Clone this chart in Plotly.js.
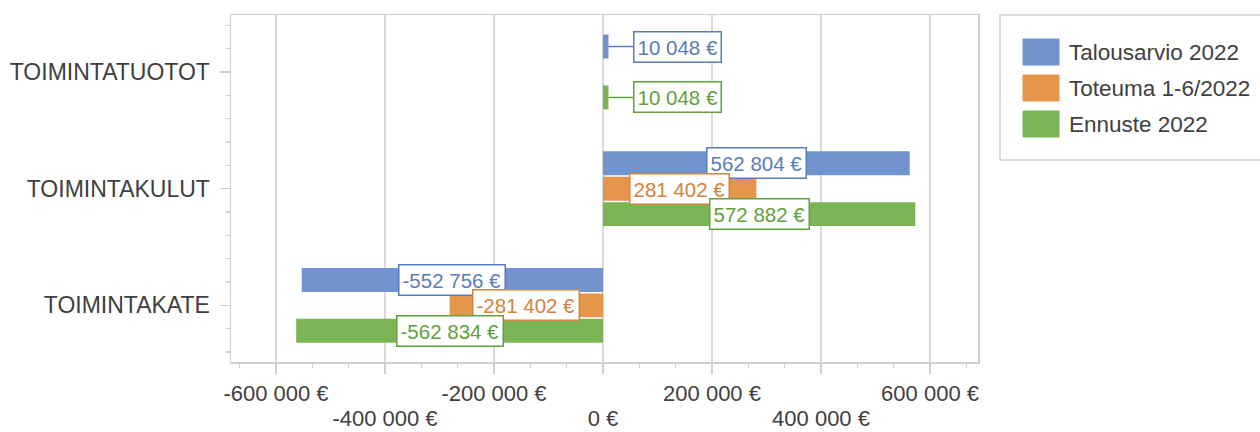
<!DOCTYPE html>
<html><head><meta charset="utf-8">
<script src="https://cdn.plot.ly/plotly-3.0.1.min.js"></script>
<style>html,body{margin:0;padding:0;background:#fff}#chart{width:1260px;height:432px}</style>
</head><body><div id="chart"></div>
<script>
const categories = ["TOIMINTATUOTOT", "TOIMINTAKULUT", "TOIMINTAKATE"];
const seriesNames = ["Talousarvio 2022", "Toteuma 1-6/2022", "Ennuste 2022"];
const talousarvio = [10048, 562804, -552756];
const toteuma = [0, 281402, -281402];
const ennuste = [10048, 572882, -562834];
const xTickVals = [-600000, -400000, -200000, 0, 200000, 400000, 600000];
const xTickText = ["-600 000 €", "-400 000 €", "-200 000 €", "0 €", "200 000 €", "400 000 €", "600 000 €"];

const seriesValues = [talousarvio, toteuma, ennuste];
const colors = ["#7194CE", "#E5964B", "#7BB454"];
const textColors = ["#5B7BBE", "#D5823C", "#62A03E"];
const axisGrey = "#D0D0D0";
const textGrey = "#404040";
const FONT = "Liberation Sans, Arial, sans-serif";

function fmt(v) {
  const s = Math.abs(Math.round(v)).toString().replace(/\B(?=(\d{3})+(?!\d))/g, " ");
  return (v < 0 ? "-" : "") + s + " €";
}

const step = 0.218, barW = 0.205;
const traces = seriesValues.map((vals, s) => ({
  type: "bar", orientation: "h", name: seriesNames[s],
  x: vals, y: categories.map((c, i) => i + (s - 1) * step),
  width: barW, marker: {color: colors[s]}, hoverinfo: "skip", showlegend: false
}));
// empty helper trace so the second (label-only) x axis is drawn
traces.push({type: "scatter", mode: "markers", x: [], y: [], xaxis: "x2", yaxis: "y", hoverinfo: "skip", showlegend: false});

const annotations = [];
seriesValues.forEach((vals, s) => {
  vals.forEach((v, i) => {
    if (v === 0) return;
    const y = i + (s - 1) * step;
    const base = {
      text: fmt(v), yref: "y", xref: "x", y: y,
      font: {family: FONT, size: 20.5, color: textColors[s]},
      bgcolor: "#FFFFFF", bordercolor: textColors[s], borderwidth: 1.5, borderpad: 3
    };
    if (Math.abs(v) < 50000) {
      annotations.push(Object.assign(base, {
        x: v, showarrow: true, arrowhead: 0, arrowwidth: 1.5, arrowcolor: textColors[s],
        ax: 69, ay: 0, standoff: 0
      }));
    } else {
      annotations.push(Object.assign(base, {x: v / 2, showarrow: false}));
    }
  });
});

// legend (manual, larger swatches)
const shapes = [{
  type: "rect", xref: "paper", yref: "paper", xsizemode: "pixel", ysizemode: "pixel",
  xanchor: 1, yanchor: 1, x0: 22, x1: 300, y0: 0, y1: -145,
  line: {color: axisGrey, width: 1.5}, fillcolor: "rgba(0,0,0,0)"
}];
seriesNames.forEach((n, s) => {
  shapes.push({
    type: "rect", xref: "paper", yref: "paper", xsizemode: "pixel", ysizemode: "pixel",
    xanchor: 1, yanchor: 1, x0: 45, x1: 81, y0: -(24 + 36 * s), y1: -(50 + 36 * s),
    line: {color: colors[s], width: 1}, fillcolor: colors[s]
  });
  annotations.push({
    text: n, xref: "paper", yref: "paper", x: 1, y: 1, xshift: 89, yshift: -(37 + 36 * s),
    xanchor: "left", yanchor: "middle", showarrow: false,
    font: {family: FONT, size: 22.5, color: textGrey}
  });
});

const topIdx = [0, 2, 4, 6], botIdx = [1, 3, 5];
const xRange = [-682500, 688000];

const layout = {
  width: 1260, height: 432,
  margin: {l: 231, r: 282, t: 15, b: 70},
  paper_bgcolor: "#FFFFFF", plot_bgcolor: "#FFFFFF",
  barmode: "overlay", showlegend: false,
  font: {family: FONT, size: 22, color: textGrey},
  xaxis: {
    range: xRange, tickmode: "array",
    tickvals: xTickVals, ticktext: xTickText.map((t, i) => topIdx.includes(i) ? t : ""),
    ticks: "outside", ticklen: 10, tickwidth: 1.5, tickcolor: axisGrey,
    showline: true, linecolor: axisGrey, linewidth: 1.5, mirror: true,
    showgrid: true, gridcolor: "#D9D9D9", gridwidth: 1.5, zeroline: false,
    ticklabelstandoff: 1,
    minor: {tickmode: "linear", tick0: 0, dtick: 200000 / 3, ticks: "outside", ticklen: 4, tickcolor: axisGrey, tickwidth: 1.5, showgrid: false},
    tickfont: {family: FONT, size: 22, color: textGrey}
  },
  xaxis2: {
    overlaying: "x", anchor: "y", side: "bottom", range: xRange, tickmode: "array",
    tickvals: botIdx.map(i => xTickVals[i]), ticktext: botIdx.map(i => xTickText[i]),
    ticks: "", showgrid: false, showline: false, zeroline: false, ticklabelstandoff: 41,
    tickfont: {family: FONT, size: 22, color: textGrey}
  },
  yaxis: {
    range: [2.485, -0.488], tickmode: "array", tickvals: [0, 1, 2], ticktext: categories,
    ticks: "outside", ticklen: 10, tickwidth: 1.5, tickcolor: axisGrey,
    showline: true, linecolor: axisGrey, linewidth: 1.5, mirror: true,
    showgrid: false, zeroline: false, ticklabelstandoff: 5,
    minor: {tickmode: "linear", tick0: 0, dtick: 0.2, ticks: "outside", ticklen: 4, tickcolor: axisGrey, tickwidth: 1.5},
    tickfont: {family: FONT, size: 23, color: textGrey}
  },
  annotations: annotations, shapes: shapes
};

Plotly.newPlot("chart", traces, layout, {displayModeBar: false, staticPlot: true});
</script>
</body></html>
